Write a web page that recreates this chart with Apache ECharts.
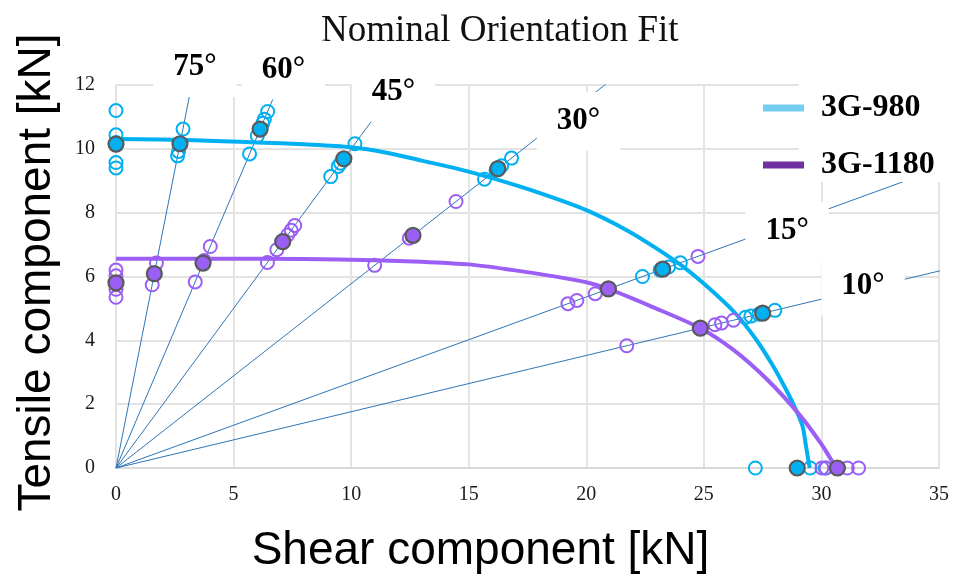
<!DOCTYPE html>
<html>
<head>
<meta charset="utf-8">
<script src="https://cdn.jsdelivr.net/npm/echarts@6/dist/echarts.min.js"></script>
<style>
  html, body { margin: 0; padding: 0; background: #ffffff; }
  #chart { width: 953px; height: 576px; }
</style>
</head>
<body>
<div id="chart"></div>
<script>
// Loading directions (degrees from the shear axis)
const guideAngles = [75, 60, 45, 30, 15, 10];
// Where each direction label is anchored [shear, tensile]
const guideLabelAnchors = [[3.36, 12.55], [7.12, 12.47], [11.8, 11.77], [19.67, 10.86], [28.54, 7.42], [31.77, 5.70]];

// 3G-980: individual tests [shear, tensile] in kN
const tests980 = [
  [0, 11.2], [0, 10.44], [0, 10.2], [0, 9.57], [0, 9.40],
  [2.85, 10.62], [2.72, 10.15], [2.66, 9.92], [2.62, 9.78],
  [6.45, 11.17], [6.31, 10.93], [6.24, 10.80], [6.01, 10.41], [5.68, 9.84],
  [10.16, 10.16], [9.55, 9.55], [9.45, 9.45], [9.13, 9.13],
  [16.82, 9.71], [16.40, 9.47], [16.16, 9.33], [15.67, 9.05],
  [24.0, 6.43], [23.5, 6.30], [23.14, 6.20], [22.39, 6.00],
  [28.02, 4.94], [27.34, 4.82], [27.0, 4.76], [26.77, 4.72],
  [27.19, 0], [29.52, 0], [30.16, 0]
];
// 3G-980: mean per direction
const means980 = [
  [0, 10.15], [2.72, 10.16], [6.13, 10.62], [9.69, 9.69],
  [16.24, 9.38], [23.25, 6.23], [27.5, 4.85], [28.97, 0]
];
// 3G-980: fitted failure envelope
const fitShear980   = [0, 3, 6, 8, 10, 11.5, 13, 14.5, 16, 18, 20, 21.7, 22.9, 24.1, 25.2, 26.3, 27.2, 27.9, 28.5, 28.9, 29.2, 29.33, 29.43, 29.5];
const fitTensile980 = [10.31, 10.28, 10.2, 10.14, 10.05, 9.88, 9.63, 9.38, 9.08, 8.62, 8.08, 7.46, 6.92, 6.32, 5.65, 4.88, 4.05, 3.25, 2.45, 1.85, 1.3, 0.75, 0.3, 0];

// 3G-1180: individual tests [shear, tensile] in kN
const tests1180 = [
  [0, 6.2], [0, 6.02], [0, 5.6], [0, 5.35],
  [1.72, 6.42], [1.54, 5.74],
  [4.01, 6.94], [3.75, 6.5], [3.37, 5.83],
  [7.6, 7.6], [7.45, 7.45], [7.3, 7.3], [6.84, 6.84], [6.44, 6.44],
  [14.46, 8.35], [12.47, 7.2], [11.0, 6.35],
  [24.75, 6.63], [20.38, 5.46], [19.6, 5.25], [19.22, 5.15],
  [26.26, 4.63], [25.75, 4.54], [25.47, 4.49], [21.72, 3.83],
  [30.02, 0], [30.2, 0], [31.1, 0], [31.58, 0]
];
// 3G-1180: mean per direction
const means1180 = [
  [0, 5.8], [1.63, 6.09], [3.7, 6.42], [7.09, 7.09],
  [12.63, 7.29], [20.94, 5.61], [24.85, 4.38], [30.68, 0]
];
// 3G-1180: fitted failure envelope
const fitShear1180   = [0, 4, 8, 11, 13, 15, 16.9, 18.5, 20, 20.94, 22.8, 24.85, 26.26, 27.68, 29.09, 30.0, 30.4, 30.68];
const fitTensile1180 = [6.56, 6.56, 6.55, 6.51, 6.46, 6.38, 6.2, 6.02, 5.82, 5.61, 5.05, 4.38, 3.7, 2.78, 1.65, 0.75, 0.28, 0];

const shearTicks = { min: 0, max: 35, interval: 5 };
const tensileTicks = { min: 0, max: 12, interval: 2 };

const BLUE = '#00b0f0';
const PURPLE = '#9b5ff5';
const GUIDE = '#2e75b6';
const SERIF = '"Liberation Serif", "Times New Roman", serif';
const SANS = '"Liberation Sans", Arial, sans-serif';

const zip = (xs, ys) => xs.map((x, i) => [x, ys[i]]);
const rad = d => d * Math.PI / 180;

const chart = echarts.init(document.getElementById('chart'), null, { renderer: 'canvas' });

// Guide rays from the origin, long enough to be clipped by the plot area
const guideSeries = guideAngles.map(a => ({
  name: 'ray ' + a,
  type: 'line',
  data: [[0, 0], [60 * Math.cos(rad(a)), 60 * Math.sin(rad(a))]],
  showSymbol: false,
  silent: true,
  clip: true,
  z: 2,
  lineStyle: { color: GUIDE, width: 1 }
}));

const openStyle = color => ({ color: 'rgba(255,255,255,0)', borderColor: color, borderWidth: 2, opacity: 1 });
const meanStyle = color => ({ color: color, borderColor: '#595959', borderWidth: 2.2, opacity: 1 });

const option = {
  backgroundColor: '#ffffff',
  animation: false,
  title: {
    text: 'Nominal Orientation Fit',
    left: 316,
    top: 8,
    textStyle: { fontFamily: SERIF, fontSize: 37, fontWeight: 'normal', color: '#111' }
  },
  legend: {
    orient: 'vertical',
    left: 758,
    top: 87,
    z: 20,
    itemWidth: 41,
    itemHeight: 7,
    itemGap: 25,
    icon: 'rect',
    selectedMode: false,
    textStyle: {
      fontFamily: SERIF, fontSize: 32, fontWeight: 'bold', color: '#000',
      lineHeight: 32, padding: [0, 0, 0, 12]
    },
    data: [
      { name: '3G-980', itemStyle: { color: '#75cdf0' } },
      { name: '3G-1180', itemStyle: { color: '#7030a0' } }
    ]
  },
  graphic: [{
    type: 'rect',
    z: 10,
    silent: true,
    shape: { x: 799, y: 60, width: 154, height: 122 },
    style: { fill: '#ffffff' }
  }],
  grid: { left: 116, right: 14, top: 85, bottom: 108, containLabel: false, outerBoundsMode: 'none' },
  xAxis: {
    type: 'value',
    min: shearTicks.min, max: shearTicks.max, interval: shearTicks.interval,
    name: 'Shear component [kN]',
    nameLocation: 'middle',
    nameGap: 60,
    nameTextStyle: { fontFamily: SANS, fontSize: 46, color: '#000', lineHeight: 46, padding: [0, 94, 0, 0] },
    axisLine: { show: true, lineStyle: { color: '#d9d9d9', width: 2 } },
    axisTick: { show: false },
    axisLabel: { fontFamily: SERIF, fontSize: 20, color: '#1a1a1a', margin: 17 },
    splitLine: { show: true, lineStyle: { color: '#e3e3e3', width: 2 } }
  },
  yAxis: {
    type: 'value',
    min: tensileTicks.min, max: tensileTicks.max, interval: tensileTicks.interval,
    name: 'Tensile component [kN]',
    nameLocation: 'middle',
    nameGap: 56,
    nameTextStyle: { fontFamily: SANS, fontSize: 46, color: '#000', lineHeight: 46, padding: [0, 0, 0, 8] },
    axisLine: { show: false },
    axisTick: { show: false },
    axisLabel: { fontFamily: SERIF, fontSize: 20, color: '#1a1a1a', margin: 21 },
    splitLine: { show: true, lineStyle: { color: '#e3e3e3', width: 2 } }
  },
  series: [
    ...guideSeries,
    {
      name: '3G-980',
      type: 'line',
      data: zip(fitShear980, fitTensile980),
      smooth: 0.3,
      showSymbol: false,
      z: 3,
      lineStyle: { color: BLUE, width: 4 },
      itemStyle: { color: BLUE }
    },
    {
      name: '3G-1180',
      type: 'line',
      data: zip(fitShear1180, fitTensile1180),
      smooth: 0.3,
      showSymbol: false,
      z: 3,
      lineStyle: { color: PURPLE, width: 4 },
      itemStyle: { color: PURPLE }
    },
    {
      name: '3G-980 tests', type: 'scatter', data: tests980,
      symbol: 'circle', symbolSize: 13, clip: false, z: 4,
      itemStyle: openStyle(BLUE)
    },
    {
      name: '3G-1180 tests', type: 'scatter', data: tests1180,
      symbol: 'circle', symbolSize: 13, clip: false, z: 4,
      itemStyle: openStyle(PURPLE)
    },
    {
      name: '3G-980 mean', type: 'scatter', data: means980,
      symbol: 'circle', symbolSize: 15, clip: false, z: 5,
      itemStyle: meanStyle(BLUE)
    },
    {
      name: '3G-1180 mean', type: 'scatter', data: means1180,
      symbol: 'circle', symbolSize: 15, clip: false, z: 5,
      itemStyle: meanStyle(PURPLE)
    },
    {
      name: 'direction labels',
      type: 'scatter',
      symbolSize: 0,
      clip: false,
      silent: true,
      z: 8,
      itemStyle: { opacity: 1 },
      data: guideAngles.map((a, i) => ({ value: guideLabelAnchors[i], angle: a })),
      label: {
        show: true,
        position: 'inside',
        formatter: p => p.data.angle + '°',
        fontFamily: SERIF,
        fontSize: 31,
        fontWeight: 'bold',
        color: '#000',
        opacity: 1,
        lineHeight: 31,
        backgroundColor: '#ffffff',
        padding: [13, 20, 15, 20]
      },
      labelLayout: { hideOverlap: false }
    }
  ]
};

chart.setOption(option);
</script>
</body>
</html>
